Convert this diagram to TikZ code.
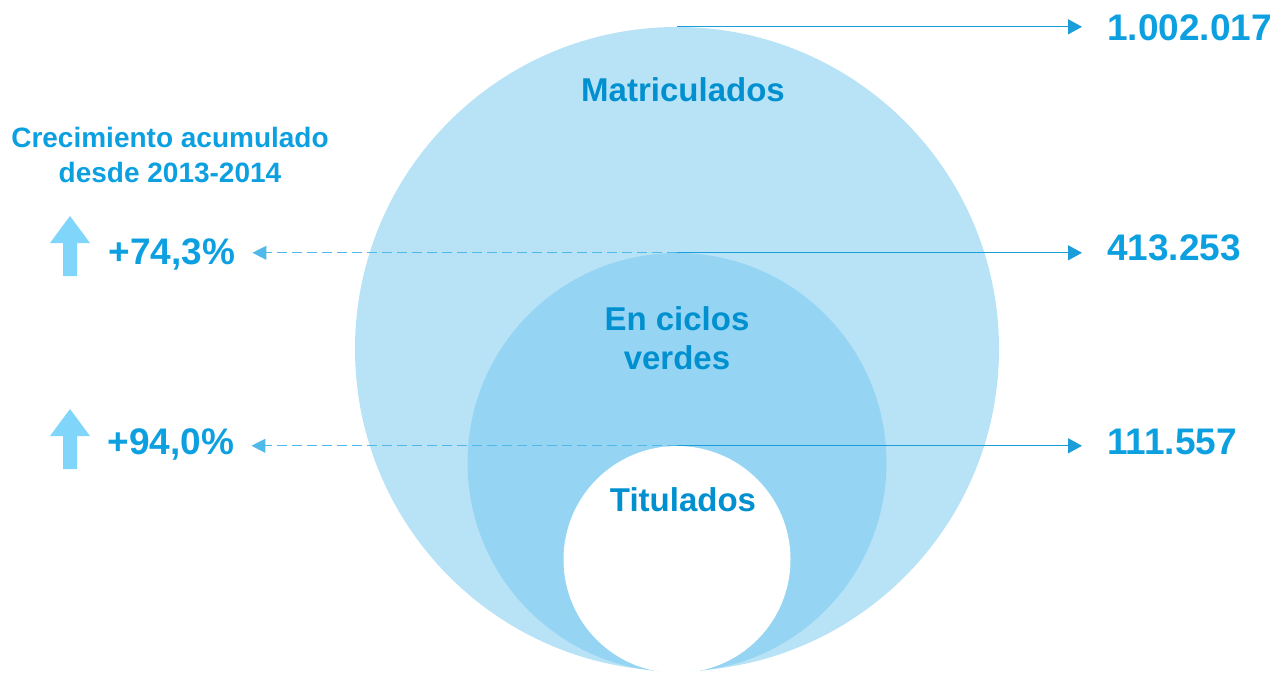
\documentclass[tikz,border=0pt]{standalone}
\usepackage{fontspec}
\setmainfont{Liberation Sans}
\usetikzlibrary{arrows.meta}
\definecolor{matricfill}{RGB}{184,227,247}
\definecolor{verdesfill}{RGB}{149,213,243}
\definecolor{intext}{RGB}{0,144,207}
\definecolor{outtext}{RGB}{13,160,225}
\definecolor{upcol}{RGB}{127,214,250}
\definecolor{linecol}{RGB}{27,157,217}
\definecolor{dashcol}{RGB}{79,185,234}
\tikzset{
  disc/.style={circle, inner sep=0pt, draw=none},
  inlabel/.style={font=\bfseries\fontsize{33}{39}\selectfont, text=intext, align=center},
  numlabel/.style={font=\bfseries\fontsize{37}{44}\selectfont, text=outtext, inner sep=0pt},
  solidcon/.style={-{Triangle[length=14pt,width=15pt]}, draw=linecol, line width=1.2pt},
  dashcon/.style={-{Triangle[length=14pt,width=14pt]}, draw=dashcol, line width=1.2pt, dash pattern=on 10pt off 5pt},
}
\begin{document}
\begin{tikzpicture}[x=1pt,y=-1pt]
    \useasboundingbox (0,0) rectangle (1277,674);

    % nested circles
    \node[disc, minimum size=644pt, fill=matricfill] (matric) at (677,349) {};
    \node[disc, minimum size=419pt, fill=verdesfill] (verdes) at (677,462.5) {};
    \node[disc, minimum size=227pt, fill=white] (titul) at (677,559.5) {};

    \node[inlabel] (lmatric) at (683,90) {Matriculados};
    \node[inlabel] (lverdes) at (677,338) {En ciclos\\verdes};
    \node[inlabel] (ltitul) at (683,500) {Titulados};

    % left side
    \node[font=\bfseries\fontsize{28}{35}\selectfont, text=outtext, align=center] (growth) at (170,155) {Crecimiento acumulado\\desde 2013-2014};
    \node[numlabel] (pct1) at (172,254.5) {+74,3\%};
    \node[numlabel] (pct2) at (171,444) {+94,0\%};
    \foreach \tip in {216,409}
        \fill[upcol] (70,\tip) -- (90,\tip+27) -- (77,\tip+27) -- (77,\tip+60) -- (63,\tip+60) -- (63,\tip+27) -- (50,\tip+27) -- cycle;

    % right side
    \node[numlabel, anchor=west] (num1) at (1107,28) {1.002.017};
    \node[numlabel, anchor=west] (num2) at (1107,248) {413.253};
    \node[numlabel, anchor=west] (num3) at (1107,442) {111.557};

    \draw[solidcon, shorten >=25pt] (matric.north) -- (matric.north -| num1.west);
    \draw[solidcon, shorten >=25pt] (verdes.north) -- (verdes.north -| num2.west);
    \draw[solidcon, shorten >=25pt] (titul.north) -- (titul.north -| num3.west);
    \draw[dashcon, shorten >=17pt] (verdes.north) -- (verdes.north -| pct1.east);
    \draw[dashcon, shorten >=17pt] (titul.north) -- (titul.north -| pct2.east);
\end{tikzpicture}
\end{document}
